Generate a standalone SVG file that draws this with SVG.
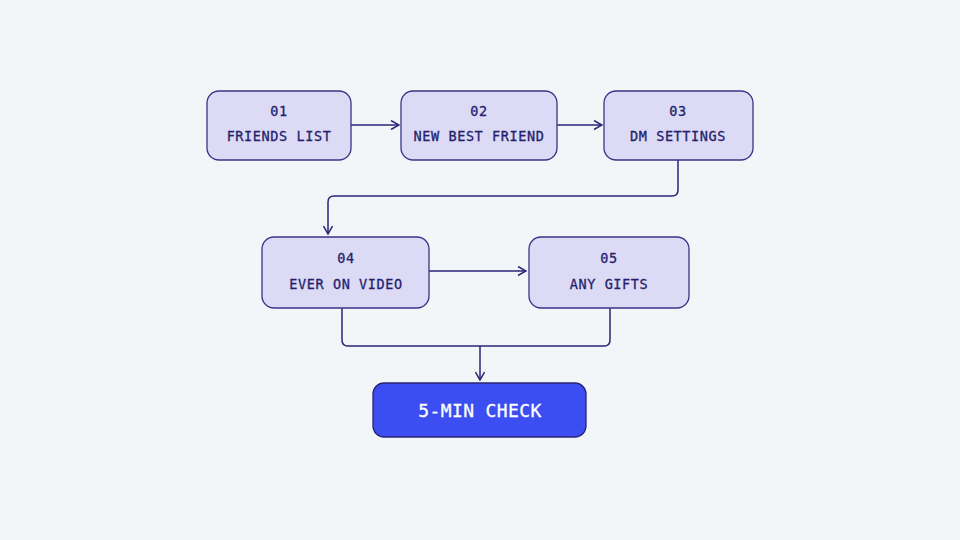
<svg xmlns="http://www.w3.org/2000/svg" width="960" height="540" viewBox="0 0 960 540">
<style>
.n{fill:#dcdaf4;stroke:#3a3388;stroke-width:1.3}
.t{font-family:"DejaVu Sans Mono","Liberation Mono",monospace;font-size:13.5px;fill:#241f6e;stroke:#241f6e;stroke-width:0.3;text-anchor:middle;letter-spacing:0.6px}
.c{fill:none;stroke:#2a2478;stroke-width:1.5;stroke-linejoin:round}
</style>
<defs>
<marker id="a" viewBox="0 0 10 10" refX="9" refY="5" markerWidth="10" markerHeight="10" markerUnits="userSpaceOnUse" orient="auto">
<path d="M1,0.5 L9,5 L1,9.5" fill="none" stroke="#2a2478" stroke-width="1.5"/>
</marker>
</defs>
<rect width="960" height="540" fill="#f3f6f9"/>
<g id="connectors">
<path class="c" d="M351,125 H399" marker-end="url(#a)"/>
<path class="c" d="M557,125 H602" marker-end="url(#a)"/>
<path class="c" d="M678,160 V190 Q678,196 672,196 H334 Q328,196 328,202 V234" marker-end="url(#a)"/>
<path class="c" d="M429,271 H526" marker-end="url(#a)"/>
<path class="c" d="M342,308 V340 Q342,346 348,346 H604 Q610,346 610,340 V308"/>
<path class="c" d="M480,346 V380" marker-end="url(#a)"/>
</g>
<g id="n1"><rect class="n" x="207" y="91" width="144" height="69" rx="12"/><text class="t" x="279" y="116">01</text><text class="t" x="279" y="141">FRIENDS LIST</text></g>
<g id="n2"><rect class="n" x="401" y="91" width="156" height="69" rx="12"/><text class="t" x="479" y="116">02</text><text class="t" x="479" y="141">NEW BEST FRIEND</text></g>
<g id="n3"><rect class="n" x="604" y="91" width="149" height="69" rx="12"/><text class="t" x="678" y="116">03</text><text class="t" x="678" y="141">DM SETTINGS</text></g>
<g id="n4"><rect class="n" x="262" y="237" width="167" height="71" rx="12"/><text class="t" x="346" y="263">04</text><text class="t" x="346" y="289">EVER ON VIDEO</text></g>
<g id="n5"><rect class="n" x="529" y="237" width="160" height="71" rx="12"/><text class="t" x="609" y="263">05</text><text class="t" x="609" y="289">ANY GIFTS</text></g>
<g id="n6"><rect x="373" y="383" width="213" height="54" rx="11" fill="#3c4ef2" stroke="#2a2478" stroke-width="1.3"/><text x="480" y="417" font-family="DejaVu Sans Mono, Liberation Mono, monospace" font-size="18" fill="#ffffff" stroke="#ffffff" stroke-width="0.3" text-anchor="middle" letter-spacing="0.4">5-MIN CHECK</text></g>
</svg>
